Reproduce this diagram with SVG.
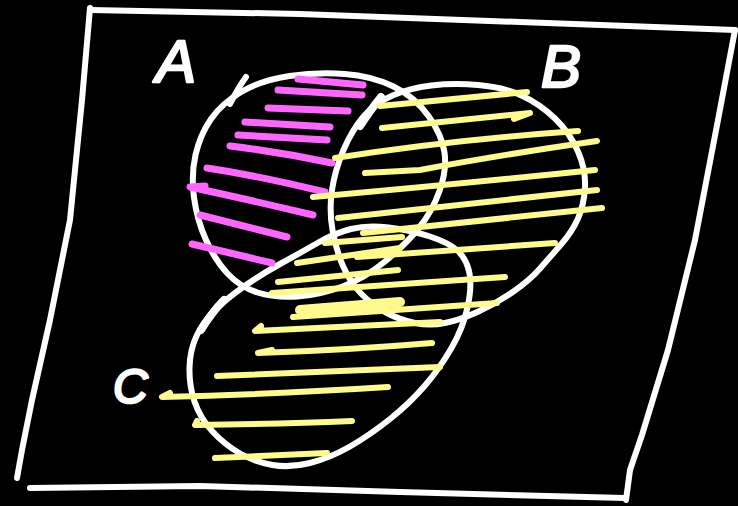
<svg xmlns="http://www.w3.org/2000/svg" width="738" height="506" viewBox="0 0 738 506">
<style>
.w{fill:none;stroke:#ffffff;stroke-width:6;stroke-linecap:round;stroke-linejoin:round}
.m{fill:none;stroke:#ff66ff;stroke-width:7;stroke-linecap:round;stroke-linejoin:round}
.y{fill:none;stroke:#fffa8c;stroke-width:6;stroke-linecap:round;stroke-linejoin:round}
.lbl{fill:#ffffff;stroke:#ffffff;stroke-width:2.5;stroke-linejoin:round;font-family:"Liberation Sans",Arial,sans-serif;font-style:italic}
</style>
<rect width="738" height="506" fill="#000000"/>
<g id="frame">
<path class="w" d="M90,10 L300,14 L520,22 L735,30"/>
<path class="w" d="M735,30 L718,120 L695,240 L668,350 L642,435 L630,470 L626,500"/>
<path class="w" d="M30,488 L200,486 L400,492 L625,498"/>
<path class="w" d="M90,8 L82,100 L70,220 L50,320 L32,400 L22,450 L17,478"/>
</g>
<g id="set-a">
<path class="w" d="M289.5,76 Q317,72 344.5,74 Q372,76 393.5,86.5 Q415,97 428.5,116 Q442,135 444.5,152.5 Q447,170 439.5,191 Q432,212 418.5,228.5 Q405,245 385,261.5 Q365,278 342.5,286.5 Q320,295 297.5,296.5 Q275,298 257.5,292.5 Q240,287 227.5,273.5 Q215,260 206,240 Q197,220 194,197.5 Q191,175 195.5,155 Q200,135 211,119 Q222,103 242,91.5 Q262,80 289.5,76 Z"/>
<path class="w" d="M246,77 Q238,88 230,104"/>
</g>
<g id="set-b">
<path class="w" d="M431.5,85.5 Q453,83 478,85 Q503,87 521.5,95.5 Q540,104 555,118.5 Q570,133 578,151.5 Q586,170 585,187.5 Q584,205 578,218.5 Q572,232 561,244.5 Q550,257 540,268.5 Q530,280 513.5,291.5 Q497,303 478.5,311.5 Q460,320 445,323 Q430,326 415,323 Q400,320 386,312.5 Q372,305 361,293.5 Q350,282 343,266 Q336,250 332.5,230 Q329,210 332,190 Q335,170 343.5,150 Q352,130 363.5,116.5 Q375,103 392.5,95.5 Q410,88 431.5,85.5 Z"/>
<path class="w" d="M381,97 Q372,108 360,126" style="stroke-width:8"/>
</g>
<g id="set-c">
<path class="w" d="M351,229 Q367,225 388.5,227.5 Q410,230 430,236.5 Q450,243 458.5,251.5 Q467,260 469.5,273.5 Q472,287 467.5,307.5 Q463,328 451.5,348 Q440,368 425,385.5 Q410,403 390,419 Q370,435 350,446.5 Q330,458 310,463 Q290,468 272.5,465 Q255,462 240,453.5 Q225,445 212.5,431.5 Q200,418 194.5,401.5 Q189,385 189.5,367.5 Q190,350 196.5,336 Q203,322 214,311 Q225,300 242.5,287.5 Q260,275 280,264 Q300,253 317.5,243 Q335,233 351,229 Z"/>
<path class="w" d="M224,300 Q212,312 201,330" style="stroke-width:8"/>
</g>
<g id="hatch-a">
<path class="m" d="M298,79 L363,85"/>
<path class="m" d="M278,90 L362,95"/>
<path class="m" d="M268,108 L348,111"/>
<path class="m" d="M245,122 L330,127"/>
<path class="m" d="M238,135 L327,140"/>
<path class="m" d="M230,146 Q280,152 332,163"/>
<path class="m" d="M207,168 Q260,176 325,192"/>
<path class="m" d="M205,186 L190,187 Q250,200 313,215"/>
<path class="m" d="M200,215 L287,237"/>
<path class="m" d="M192,244 L272,263"/>
</g>
<g id="hatch-bc">
<path class="y" d="M380,106 L527,92"/>
<path class="y" d="M382,128 L530,113 L514,119"/>
<path class="y" d="M335,158 Q450,140 578,131"/>
<path class="y" d="M365,173 L420,170 Q500,155 597,141"/>
<path class="y" d="M313,197 Q450,185 595,170"/>
<path class="y" d="M338,218 Q480,203 597,190"/>
<path class="y" d="M363,233 L602,208"/>
<path class="y" d="M325,243 L402,237"/>
<path class="y" d="M357,257 L555,243"/>
<path class="y" d="M297,263 L400,248"/>
<path class="y" d="M278,282 L398,270"/>
<path class="y" d="M272,293 L417,283 L505,277"/>
<path class="y" d="M300,310 L400,302" style="stroke-width:10"/>
<path class="y" d="M293,317 L497,303"/>
<path class="y" d="M261,326 L255,331 Q350,326 440,322"/>
<path class="y" d="M272,350 L258,353 Q350,350 432,343"/>
<path class="y" d="M217,376 L440,367"/>
<path class="y" d="M170,393 L162,397 Q280,394 388,387"/>
<path class="y" d="M197,421 L195,425 Q280,424 352,421"/>
<path class="y" d="M215,458 L327,453"/>
</g>
<g id="labels">
<text class="lbl" x="156" y="82" font-size="60">A</text>
<text class="lbl" x="541" y="87" font-size="60">B</text>
<text class="lbl" x="113" y="403" font-size="48">C</text>
</g>
</svg>
